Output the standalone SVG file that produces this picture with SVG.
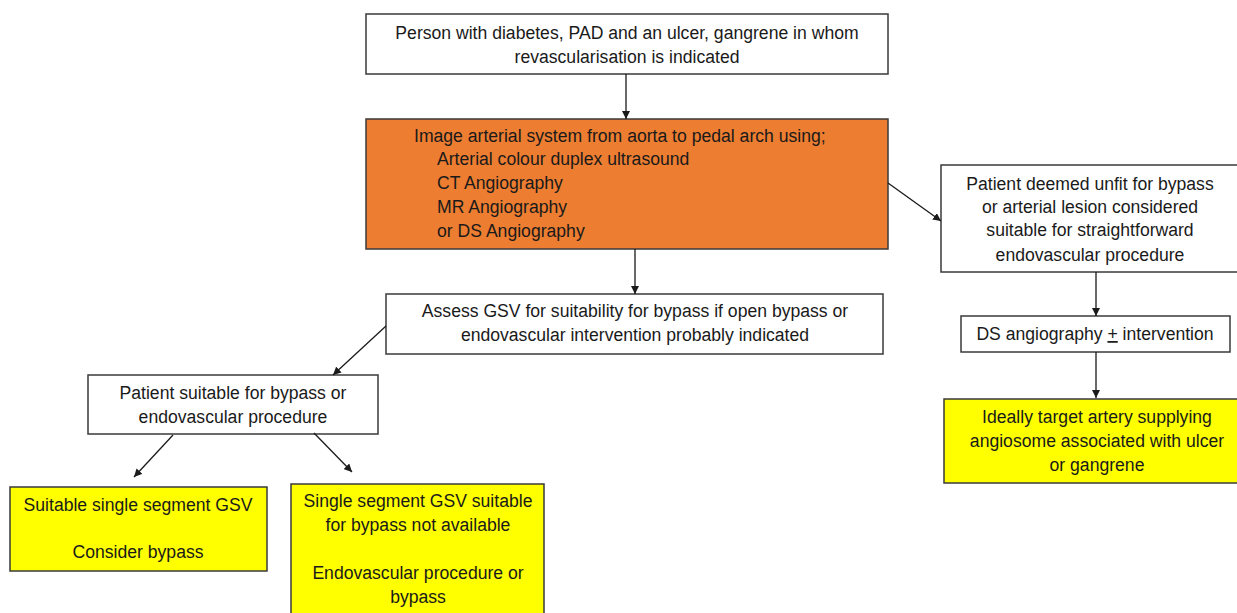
<svg xmlns="http://www.w3.org/2000/svg" width="1237" height="613" viewBox="0 0 1237 613">
<style>
.box{stroke:#3a3a3a;stroke-width:1.5}
.w{fill:#fff}
.o{fill:#ED7D31}
.y{fill:#FFFF00}
text{font-family:"Liberation Sans",Arial,sans-serif;font-size:17.6px;fill:#1a1a1a}
.c{text-anchor:middle}
.conn line{stroke:#1a1a1a;stroke-width:1.3;marker-end:url(#ah)}
</style>
<defs>
<marker id="ah" viewBox="0 0 10 10" refX="10" refY="5" markerWidth="8" markerHeight="8" markerUnits="userSpaceOnUse" orient="auto">
<path d="M0,0 L10,5 L0,10 z" fill="#1a1a1a"/>
</marker>
</defs>
<rect width="1237" height="613" fill="#fff"/>
<g id="n-start">
<rect class="box w" x="366" y="14" width="522" height="60"/>
<text class="c" x="627" y="39">Person with diabetes, PAD and an ulcer, gangrene in whom</text>
<text class="c" x="627" y="63">revascularisation is indicated</text>
</g>
<g id="n-image">
<rect class="box o" x="366" y="119" width="522" height="130"/>
<text x="414" y="142">Image arterial system from aorta to pedal arch using;</text>
<text x="437" y="165">Arterial colour duplex ultrasound</text>
<text x="437" y="189">CT Angiography</text>
<text x="437" y="213">MR Angiography</text>
<text x="437" y="237">or DS Angiography</text>
</g>
<g id="n-assess">
<rect class="box w" x="386" y="294" width="497" height="60"/>
<text class="c" x="635" y="317">Assess GSV for suitability for bypass if open bypass or</text>
<text class="c" x="635" y="341">endovascular intervention probably indicated</text>
</g>
<g id="n-unfit">
<rect class="box w" x="941" y="165" width="300" height="107"/>
<text class="c" x="1090" y="190">Patient deemed unfit for bypass</text>
<text class="c" x="1090" y="213">or arterial lesion considered</text>
<text class="c" x="1090" y="236">suitable for straightforward</text>
<text class="c" x="1090" y="261">endovascular procedure</text>
</g>
<g id="n-ds">
<rect class="box w" x="961" y="316" width="269" height="36"/>
<text class="c" x="1095" y="340">DS angiography <tspan text-decoration="underline">+</tspan> intervention</text>
</g>
<g id="n-target">
<rect class="box y" x="944" y="399" width="300" height="84"/>
<text class="c" x="1097" y="423">Ideally target artery supplying</text>
<text class="c" x="1097" y="447">angiosome associated with ulcer</text>
<text class="c" x="1097" y="471">or gangrene</text>
</g>
<g id="n-suitable">
<rect class="box w" x="88" y="375" width="290" height="59"/>
<text class="c" x="233" y="399">Patient suitable for bypass or</text>
<text class="c" x="233" y="423">endovascular procedure</text>
</g>
<g id="n-gsv">
<rect class="box y" x="10" y="487" width="257" height="84"/>
<text class="c" x="138" y="511">Suitable single segment GSV</text>
<text class="c" x="138" y="558">Consider bypass</text>
</g>
<g id="n-nogsv">
<rect class="box y" x="291" y="484" width="253" height="140"/>
<text class="c" x="418" y="507">Single segment GSV suitable</text>
<text class="c" x="418" y="531">for bypass not available</text>
<text class="c" x="418" y="579">Endovascular procedure or</text>
<text class="c" x="418" y="603">bypass</text>
</g>
<g class="conn" id="connectors">
<line x1="626" y1="74" x2="626" y2="119"/>
<line x1="635" y1="249" x2="635" y2="294"/>
<line x1="888" y1="183" x2="941" y2="221"/>
<line x1="1096" y1="272" x2="1096" y2="316"/>
<line x1="1096" y1="352" x2="1096" y2="398"/>
<line x1="386" y1="326" x2="333" y2="375"/>
<line x1="173" y1="435" x2="134" y2="477"/>
<line x1="314" y1="433" x2="352" y2="472"/>
</g>
</svg>
